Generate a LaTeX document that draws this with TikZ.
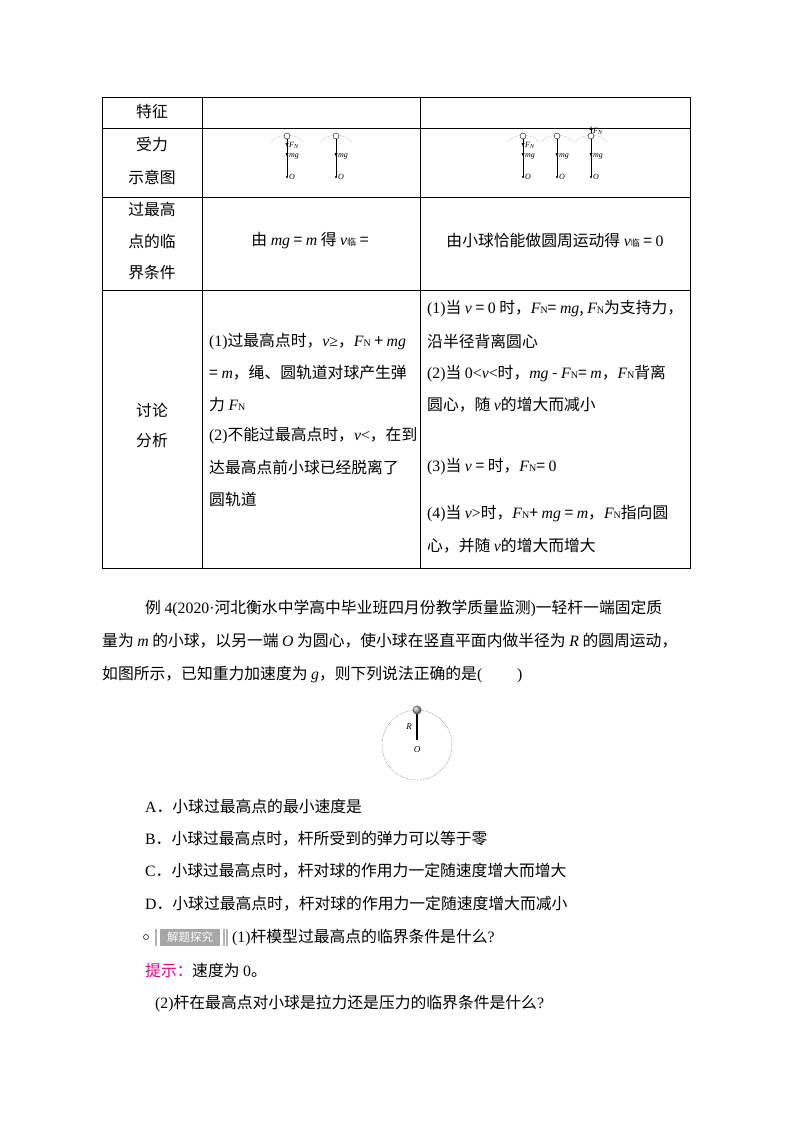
\documentclass[tikz,border=0pt]{standalone}
\usepackage{fontspec}
\setmainfont{Noto Sans CJK SC}
\newfontfamily\ser{Liberation Serif}
\newcommand{\mi}[1]{{\ser\itshape #1}}
\newcommand{\rmn}[1]{{\ser #1}}
\newcommand{\FN}{\mi{F}{\ser\fontsize{10}{10}\selectfont N}}
\begin{document}
\begin{tikzpicture}[x=1pt,y=-1pt,
  t/.style={anchor=west,inner sep=0pt,font=\fontsize{15.8}{17}\selectfont},
  c/.style={inner sep=0pt,font=\fontsize{15.8}{17}\selectfont},
  sm/.style={inner sep=0pt,font=\fontsize{8}{9}\ser\itshape},
  ar/.style={-latex,line width=0.4pt}]
\useasboundingbox (0,0) rectangle (800,1132);
% table
\draw[line width=1pt] (102,97) -- (690,97);
\draw[line width=0.6pt] (102,97) rectangle (690,568);
\foreach \y in {128,197,290} \draw[line width=0.6pt] (102,\y) -- (690,\y);
\draw[line width=0.6pt] (202,97) -- (202,568) (420,97) -- (420,568);
\node[c] (h1) at (152,111) {特征};
\node[c] (h2) at (152,144) {受力};
\node[c] (h3) at (152,177) {示意图};
\node[c] (h4) at (152,209) {过最高};
\node[c] (h5) at (152,241) {点的临};
\node[c] (h6) at (152,273) {界条件};
\node[c] (h7) at (152,410) {讨论};
\node[c] (h8) at (152,441) {分析};
% force diagrams
\foreach \x/\n in {287/1,336/2,523/3,557/4,591/5}{
  \draw[densely dotted,gray,line width=0.4pt] (\x-16,142) .. controls (\x-8,133) and (\x+8,133) .. (\x+16,142);
  \draw[line width=0.5pt] (\x,139) -- (\x,177);
  \draw[fill=white,line width=0.4pt] (\x,136) circle (3);
  \fill (\x,177) circle (1.1);
  \node[sm,anchor=west] (o\n) at (\x+2,177) {O};
  \draw[ar] (\x,151) -- (\x,157);
  \node[sm,anchor=west] (mg\n) at (\x+2,156) {mg};
}
\draw[ar] (287,141) -- (287,147); \node[sm,anchor=west] (fa) at (289,145) {F\textsubscript{N}};
\draw[ar] (523,141) -- (523,147); \node[sm,anchor=west] (fb) at (525,145) {F\textsubscript{N}};
\draw[ar] (591,133) -- (591,126); \node[sm,anchor=west] (fc) at (593,131) {F\textsubscript{N}};
% row 3
\node[c] (r3a) at (310,241) {由 \mi{mg} = \mi{m} 得 \mi{v}{\fontsize{9}{10}\selectfont 临} =};
\node[c] (r3b) at (555,241) {由小球恰能做圆周运动得 \mi{v}{\fontsize{9}{10}\selectfont 临} = \rmn{0}};
% row 4 col2
\node[t] (a1) at (209,342) {\rmn{(1)}过最高点时，\mi{v}\rmn{≥}，\FN\ + \mi{mg}};
\node[t] (a2) at (209,373) {= \mi{m}，绳、圆轨道对球产生弹};
\node[t] (a3) at (209,405) {力 \FN};
\node[t] (a4) at (209,436) {\rmn{(2)}不能过最高点时，\mi{v}\rmn{<}，在到};
\node[t] (a5) at (209,467) {达最高点前小球已经脱离了};
\node[t] (a6) at (209,499) {圆轨道};
% row 4 col3
\node[t] (b1) at (427,309) {\rmn{(1)}当 \mi{v} = \rmn{0} 时，\FN = \mi{mg}, \FN 为支持力，};
\node[t] (b2) at (427,341) {沿半径背离圆心};
\node[t] (b3) at (427,373) {\rmn{(2)}当 \rmn{0<}\mi{v}\rmn{<}时，\mi{mg} - \FN = \mi{m}，\FN 背离};
\node[t] (b4) at (427,405) {圆心，随 \mi{v}的增大而减小};
\node[t] (b5) at (427,467) {\rmn{(3)}当 \mi{v} = 时，\FN = \rmn{0}};
\node[t] (b6) at (427,514) {\rmn{(4)}当 \mi{v}\rmn{>}时，\FN + \mi{mg} = \mi{m}，\FN 指向圆};
\node[t] (b7) at (427,546) {心，并随 \mi{v}的增大而增大};
% paragraph
\node[t] (p1) at (145,608) {例 \rmn{4(2020·}河北衡水中学高中毕业班四月份教学质量监测\rmn{)}一轻杆一端固定质};
\node[t] (p2) at (102,641) {量为 \mi{m} 的小球，以另一端 \mi{O} 为圆心，使小球在竖直平面内做半径为 \mi{R} 的圆周运动，};
\node[t] (p3) at (102,674) {如图所示，已知重力加速度为 \mi{g}，则下列说法正确的是\rmn{(}\hspace{2.2em}\rmn{)}};
% circle figure
\draw[densely dotted,gray,line width=0.6pt] (417,745) circle (35);
\draw[line width=1.6pt] (417,712) -- (417,740);
\shade[ball color=gray!70] (417,710) circle (4.5);
\node[sm,font=\fontsize{9}{10}\ser\itshape] (R) at (409,727) {R};
\node[sm,font=\fontsize{9}{10}\ser\itshape] (O) at (417,750) {O};
% options
\node[t] (A) at (145,806) {\rmn{A}．小球过最高点的最小速度是};
\node[t] (B) at (145,839) {\rmn{B}．小球过最高点时，杆所受到的弹力可以等于零};
\node[t] (C) at (145,871) {\rmn{C}．小球过最高点时，杆对球的作用力一定随速度增大而增大};
\node[t] (D) at (145,904) {\rmn{D}．小球过最高点时，杆对球的作用力一定随速度增大而减小};
\draw[line width=0.5pt] (146,937) circle (2.5);
\fill[gray!60] (155,929) rectangle (157,946);
\fill[gray!70] (160,929) rectangle (220,946);
\node[inner sep=0pt,font=\fontsize{11.5}{12}\selectfont,text=white] (icon) at (190,937.5) {解题探究};
\fill[gray!60] (223,929) rectangle (224.5,946);
\fill[gray!60] (226,929) rectangle (227.5,946);
\node[t] (q1) at (232,937) {\rmn{(1)}杆模型过最高点的临界条件是什么\rmn{?}};
\node[t,text=magenta] (ts) at (145,970) {提示：};
\node[t] (ts2) at (192,970) {速度为 \rmn{0}。};
\node[t] (q2) at (155,1003) {\rmn{(2)}杆在最高点对小球是拉力还是压力的临界条件是什么\rmn{?}};
\end{tikzpicture}
\end{document}
